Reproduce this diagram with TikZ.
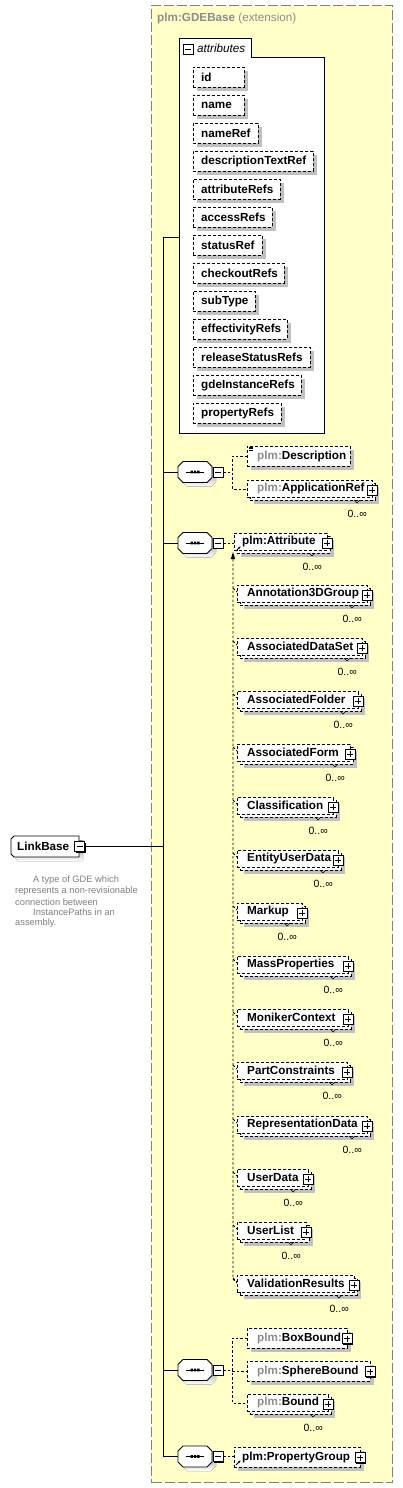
\documentclass[tikz,border=0pt]{standalone}
\usepackage{fontspec}
\setmainfont{Liberation Sans}
\usetikzlibrary{shadows,calc,arrows.meta}
\definecolor{extfill}{RGB}{255,255,200}
\definecolor{extline}{RGB}{128,128,128}
\definecolor{shade}{RGB}{192,192,192}
\definecolor{pfxc}{RGB}{140,140,140}
\definecolor{descc}{RGB}{128,128,128}
\newcommand{\fnt}{\fontsize{11.7}{13}\selectfont}
\newcommand{\pfx}[1]{\textcolor{pfxc}{#1}}
\tikzset{
  dsh/.style={dash pattern=on 3pt off 2pt},
  conn/.style={line width=0.9pt},
  dconn/.style={line width=0.8pt, dash pattern=on 2.5pt off 2pt},
  sh/.style={drop shadow={shadow xshift=4pt, shadow yshift=-4pt, fill=shade, opacity=1}},
  ebox/.style={draw, dsh, fill=white, line width=0.8pt, inner sep=0pt, anchor=north west, minimum height=#1},
  ebox/.default=20pt,
  etext/.style={anchor=west, inner sep=0pt, font=\fnt\bfseries},
  mult/.style={inner sep=0pt, font=\fontsize{10.5}{12}\selectfont},
  desctext/.style={anchor=west, inner sep=0pt, text=descc, font=\fontsize{9.3}{11}\selectfont},
  btn/.style={draw, fill=white, line width=0.7pt, inner sep=0pt, minimum size=10pt,
    drop shadow={shadow xshift=1pt, shadow yshift=-1pt, fill=black, opacity=1}},
  plusbtn/.style={btn, path picture={
    \draw[line width=0.8pt] ([xshift=2pt]path picture bounding box.west) -- ([xshift=-2pt]path picture bounding box.east)
      ([yshift=-2pt]path picture bounding box.north) -- ([yshift=2pt]path picture bounding box.south);}},
  minusbtn/.style={btn, path picture={
    \draw[line width=0.8pt] ([xshift=2pt]path picture bounding box.west) -- ([xshift=-2pt]path picture bounding box.east);}},
  refarrow/.style={line width=0.9pt, -{Stealth[length=2.5pt,width=2.8pt]}},
  seq/.pic={
    \fill[shade, shift={(4,4)}] (-12,-10.5) -- (12,-10.5) -- (17,-5.5) -- (17,5.5) -- (12,10.5) -- (-12,10.5) -- (-17,5.5) -- (-17,-5.5) -- cycle;
    \draw[fill=white, line width=0.8pt] (-12,-10.5) -- (12,-10.5) -- (17,-5.5) -- (17,5.5) -- (12,10.5) -- (-12,10.5) -- (-17,5.5) -- (-17,-5.5) -- cycle;
    \draw[line width=0.8pt] (-9,0) -- (9,0);
    \fill (-4.5,-1.4) rectangle (-2.1,1.4) (-1.2,-1.4) rectangle (1.2,1.4) (2.1,-1.4) rectangle (4.5,1.4);
    \node[minusbtn] (-btn) at (23,0) {};
    \coordinate (-in) at (-17,0);
  }
}
% single element box: name, L, T, W, text, text offset
\newcommand{\single}[6]{%
  \node[ebox, sh, minimum width=#4pt] (#1) at (#2,#3) {};
  \node[etext] (#1-t) at (#2+#6,#3+10) {#5};
}
% stacked (0..inf) element box: name, L, T, W, text, text offset
\newcommand{\multi}[6]{%
  \node[ebox=17pt, sh, minimum width=#4pt] (#1-back) at (#2+3,#3+3) {};
  \node[ebox=17pt, minimum width=#4pt] (#1) at (#2,#3) {};
  \node[etext] (#1-t) at (#2+#6,#3+8.5) {#5};
  \node[plusbtn] (#1-btn) at (#2+#4,#3+10) {};
  \draw[line width=0.6pt] (#2+#4-18,#3+20) -- (#2+#4-15,#3+23) -- (#2+#4-12,#3+20);
  \node[mult, anchor=east] (#1-m) at (#2+#4-5,#3+34) {0..∞};
}
% attribute: name, T, W, text
\newcommand{\attr}[4]{%
  \node[ebox, sh, minimum width=#3pt] (#1) at (193,#2) {};
  \node[etext] (#1-t) at (201,#2+10) {#4};
}
% substitution member: name, T, W, text
\newcommand{\member}[4]{%
  \multi{#1}{237}{#2}{#3}{#4}{10}
  \draw[dconn] (233,#2+3) -- (237,#2+7);
}
\begin{document}
\begin{tikzpicture}[x=1pt, y=-1pt]
\useasboundingbox (0,0) rectangle (403,1488);
\fill[white] (0,0) rectangle (403,1488);

% extension area
\node[draw=extline, line width=1pt, dash pattern=on 10pt off 3pt, fill=extfill, anchor=north west,
      minimum width=241pt, minimum height=1477pt, inner sep=0pt] (ext) at (151,5) {};
\node[anchor=west, inner sep=0pt, font=\fnt, text=pfxc] (exthead) at (157,18) {\textbf{plm:GDEBase} (extension)};

% attributes group
\node[minimum width=145pt, minimum height=376pt, anchor=north west, inner sep=0pt] (attbox) at (179,57) {};
\draw[fill=white, line width=0.9pt] (179,38) -- (251,38) -- (251,57) -- (324,57) -- (324,433) -- (179,433) -- cycle;
\node[minusbtn] (atbtn) at (188,49.5) {};
\node[anchor=west, inner sep=0pt, font=\fnt\itshape] (attl) at (197,48.5) {attributes};
\coordinate (at-in) at (179,237);

\attr{a1}{67}{51}{id}
\attr{a2}{95}{51}{name}
\attr{a3}{123}{65}{nameRef}
\attr{a4}{151}{120}{descriptionTextRef}
\attr{a5}{179}{87}{attributeRefs}
\attr{a6}{207}{79}{accessRefs}
\attr{a7}{235}{69}{statusRef}
\attr{a8}{263}{91}{checkoutRefs}
\attr{a9}{291}{62}{subType}
\attr{a10}{319}{94}{effectivityRefs}
\attr{a11}{347}{117}{releaseStatusRefs}
\attr{a12}{375}{108}{gdeInstanceRefs}
\attr{a13}{403}{88}{propertyRefs}

% LinkBase
\node[minimum width=68pt, minimum height=21pt, inner sep=0pt, anchor=north west] (lb) at (11,836) {};
\fill[shade, shift={(4,4)}] (14,836) -- (79,836) -- (79,857) -- (14,857) -- (11,854) -- (11,839) -- cycle;
\draw[fill=white, line width=0.9pt] (14,836) -- (79,836) -- (79,857) -- (14,857) -- (11,854) -- (11,839) -- cycle;
\node[etext] (lb-t) at (17,846.5) {LinkBase};
\node[minusbtn] (lb-btn) at (79.5,846.5) {};

\node[desctext] (d1) at (33,880) {A type of GDE which};
\node[desctext] (d2) at (15,891) {represents a non-revisionable};
\node[desctext] (d3) at (15,902) {connection between};
\node[desctext] (d4) at (33,912.5) {InstancePaths in an};
\node[desctext] (d5) at (15,923) {assembly.};

% compositors
\pic (s1) at (195,472) {seq};
\pic (s2) at (195,543) {seq};
\pic (s3) at (195,1370) {seq};
\pic (s4) at (195,1456.5) {seq};

% spine
\coordinate (spine-top) at (163,237);
\coordinate (spine-bot) at (163,1456.5);
\draw[conn] (at-in) -- (spine-top) -- (spine-bot);
\draw[conn] (lb-btn.east) -- (lb-btn.east -| spine-top);
\draw[conn] (s1-in) -- (s1-in -| spine-top);
\draw[conn] (s2-in) -- (s2-in -| spine-top);
\draw[conn] (s3-in) -- (s3-in -| spine-top);
\draw[conn] (s4-in) -- (s4-in -| spine-top);

% sequence 1
\single{desc}{247}{446}{103}{\pfx{plm:}Description}{10}
\draw[line width=0.6pt] (248.5,446.8) -- (253,446.8) (248.5,448.6) -- (253,448.6) (248.5,450.4) -- (253,450.4);
\multi{appref}{247}{480}{125}{\pfx{plm:}ApplicationRef}{10}
\coordinate (br1) at (232,472);
\draw[dconn] (s1-btn.east) -- (br1);
\draw[dconn] (desc.west) -- (desc.west -| br1) -- (appref.west -| br1) -- (appref.west);

% sequence 2
\multi{attr}{234}{533}{93}{plm:Attribute}{8}
\draw[refarrow] (236,551) -- (240.5,546.5);
\draw[dconn] (s2-btn.east) -- (s2-btn.east -| attr.west);
\coordinate (subtop) at (233,559);
\coordinate (subbot) at (233,1279);
\fill (233,552) -- (230.8,559) -- (235.2,559) -- cycle;
\draw[dconn] (subtop) -- (subbot) -- (237,1283);

\member{m1}{585}{130}{Annotation3DGroup}
\member{m2}{638}{125}{AssociatedDataSet}
\member{m3}{691}{121}{AssociatedFolder}
\member{m4}{744}{113}{AssociatedForm}
\member{m5}{797}{96}{Classification}
\member{m6}{850}{101}{EntityUserData}
\member{m7}{903}{65}{Markup}
\member{m8}{956}{111}{MassProperties}
\member{m9}{1009}{111}{MonikerContext}
\member{m10}{1062}{110}{PartConstraints}
\member{m11}{1116}{130}{RepresentationData}
\member{m12}{1169}{71}{UserData}
\member{m13}{1222}{69}{UserList}
\member{m14}{1275}{117}{ValidationResults}

% sequence 3
\single{boxb}{247}{1328}{100}{\pfx{plm:}BoxBound}{10}
\node[plusbtn] (boxb-btn) at (347,1338.5) {};
\single{sphb}{247}{1361}{123}{\pfx{plm:}SphereBound}{10}
\node[plusbtn] (sphb-btn) at (370,1371.5) {};
\multi{bound}{247}{1394}{81}{\pfx{plm:}Bound}{10}
\coordinate (br3) at (232,1370);
\draw[dconn] (s3-btn.east) -- (br3);
\draw[dconn] (boxb.west) -- (boxb.west -| br3) -- (bound.west -| br3) -- (bound.west);
\draw[dconn] (sphb.west -| br3) -- (sphb.west);

% sequence 4
\single{pgrp}{234}{1447}{126}{plm:PropertyGroup}{8}
\node[plusbtn] (pgrp-btn) at (360,1457.5) {};
\draw[refarrow] (236,1465) -- (240.5,1460.5);
\draw[dconn] (s4-btn.east) -- (s4-btn.east -| pgrp.west);
\end{tikzpicture}
\end{document}
